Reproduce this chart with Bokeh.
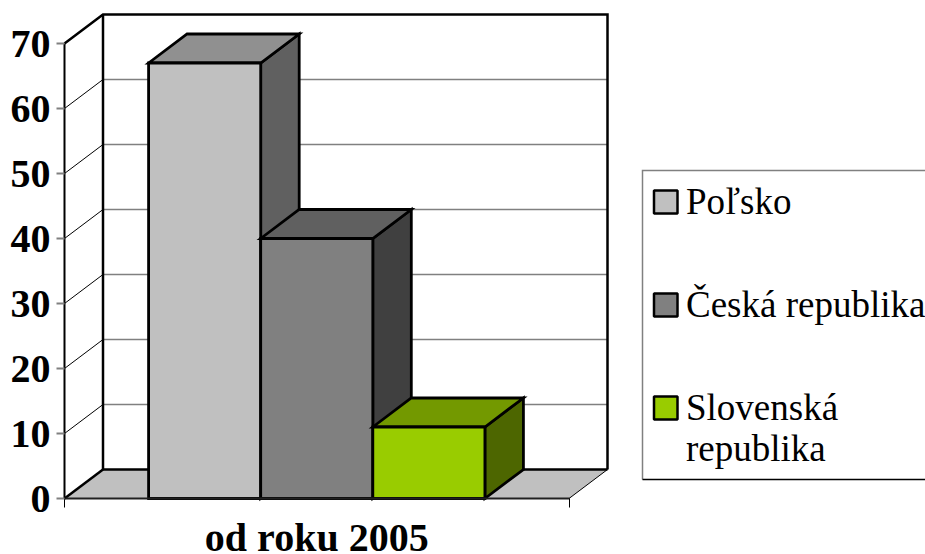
from bokeh.plotting import figure
from bokeh.models import FixedTicker, Range1d
from bokeh.core.properties import value
from bokeh.embed import file_html
from bokeh.resources import INLINE

series = ["Poľsko", "Česká republika", "Slovenská republika"]
values = [67, 40, 11]
category = ["od roku 2005"]
y_ticks = [0, 10, 20, 30, 40, 50, 60, 70]
front_colors = ["#C0C0C0", "#808080", "#99CC00"]
top_colors = ["#909090", "#606060", "#739900"]
side_colors = ["#606060", "#404040", "#4D6600"]
legend_lines = [["Poľsko"], ["Česká republika"], ["Slovenská", "republika"]]

FONT = "Liberation Serif"
PX_X = 504.5      # pixels per category slot
PX_Y = 6.5        # pixels per value unit
DX = 38.5 / PX_X  # depth of the 3D projection, data units
DY = 29 / PX_Y
BAR = 1 / 4.5
GAP = 0.75 * BAR
W, H = 925, 554
OX, OY = 64, 498  # position of the value/category origin inside the figure

p = figure(width=W, height=H, output_backend="svg", toolbar_location=None,
           x_range=Range1d(-OX / PX_X, (W - OX) / PX_X),
           y_range=Range1d(-(H - OY) / PX_Y, OY / PX_Y),
           min_border_left=0, min_border_right=0, min_border_top=0, min_border_bottom=0,
           outline_line_color=None, background_fill_color="white")
p.grid.visible = False

def X(px):
    return (px - OX) / PX_X

def Y(py):
    return (OY - py) / PX_Y

# floor and walls
top = y_ticks[-1]
p.patch([0, DX, 1 + DX, 1], [0, DY, DY, 0], fill_color="#C0C0C0", line_color=None)
# back-wall gridlines
p.segment([DX] * 6, [t + DY for t in y_ticks[1:-1]], [1 + DX] * 6,
          [t + DY for t in y_ticks[1:-1]], line_color="#808080", line_width=1.5)
# side-wall gridlines
p.segment([0] * 6, y_ticks[1:-1], [DX] * 6, [t + DY for t in y_ticks[1:-1]],
          line_color="black", line_width=1)
# wall outline
p.line([0, DX, 1 + DX, 1 + DX], [top, top + DY, top + DY, DY],
       line_color="black", line_width=2.5, line_join="miter")
p.line([DX, DX, 1 + DX], [top + DY, DY, DY], line_color="black", line_width=2.5,
       line_join="miter")
p.line([0, DX], [0, DY], line_color="black", line_width=2.5)
p.line([1, 1 + DX], [0, DY], line_color="black", line_width=1)

# bars
for i, v in enumerate(values):
    l = GAP + i * BAR
    r = l + BAR
    style = dict(line_color="black", line_width=2.8, line_join="miter")
    p.patch([r, r + DX, r + DX, r], [0, DY, v + DY, v], fill_color=side_colors[i], **style)
    p.patch([l, l + DX, r + DX, r], [v, v + DY, v + DY, v], fill_color=top_colors[i], **style)
    p.patch([l, r, r, l], [0, 0, v, v], fill_color=front_colors[i], **style)

# axes
ya = p.yaxis[0]
ya.fixed_location = 0
ya.ticker = FixedTicker(ticks=y_ticks)
ya.bounds = (0, top)
ya.axis_line_color = "black"
ya.axis_line_width = 2
ya.major_tick_line_color = "#808080"
ya.major_tick_line_width = 2
ya.major_tick_out = 8
ya.major_tick_in = 0
ya.minor_tick_line_color = None
ya.major_label_standoff = 6
ya.major_label_text_font = FONT
ya.major_label_text_font_style = "bold"
ya.major_label_text_font_size = "40px"
ya.major_label_text_color = "black"

xa = p.xaxis[0]
xa.fixed_location = 0
xa.ticker = FixedTicker(ticks=[], minor_ticks=[0, 1])
xa.bounds = (0, 1)
xa.axis_line_color = "#202020"
xa.axis_line_width = 2
xa.major_tick_line_color = None
xa.major_tick_out = 0
xa.major_tick_in = 0
xa.minor_tick_line_color = "black"
xa.minor_tick_line_width = 1
xa.minor_tick_out = 9
xa.minor_tick_in = 0

# category label under the slot it names
p.text([0.5], [Y(537)], text=category, text_font=value(FONT), text_font_style="bold",
       text_font_size="40px", text_color="black", text_baseline="alphabetic", text_align="center")

# legend box (open towards the right edge)
p.line([X(642), X(642), X(926)], [Y(479), Y(170), Y(170)], line_color="#808080", line_width=1.5,
       line_join="miter")
p.line([X(642), X(926)], [Y(479), Y(479)], line_color="black", line_width=1.5)
swatch_tops = [190, 293, 396]
for i, lines in enumerate(legend_lines):
    t = swatch_tops[i]
    p.quad(left=X(653.5), right=X(677), top=Y(t), bottom=Y(t + 23), fill_color=front_colors[i],
           line_color="black", line_width=2.5)
    for j, s in enumerate(lines):
        p.text([X(685.5)], [Y(t + 10.5 + j * 41)], text=[s], text_font=value(FONT),
               text_font_size="37px", text_color="black", text_baseline="alphabetic",
               text_align="left")

open("out.html", "w").write(file_html(p, INLINE))
